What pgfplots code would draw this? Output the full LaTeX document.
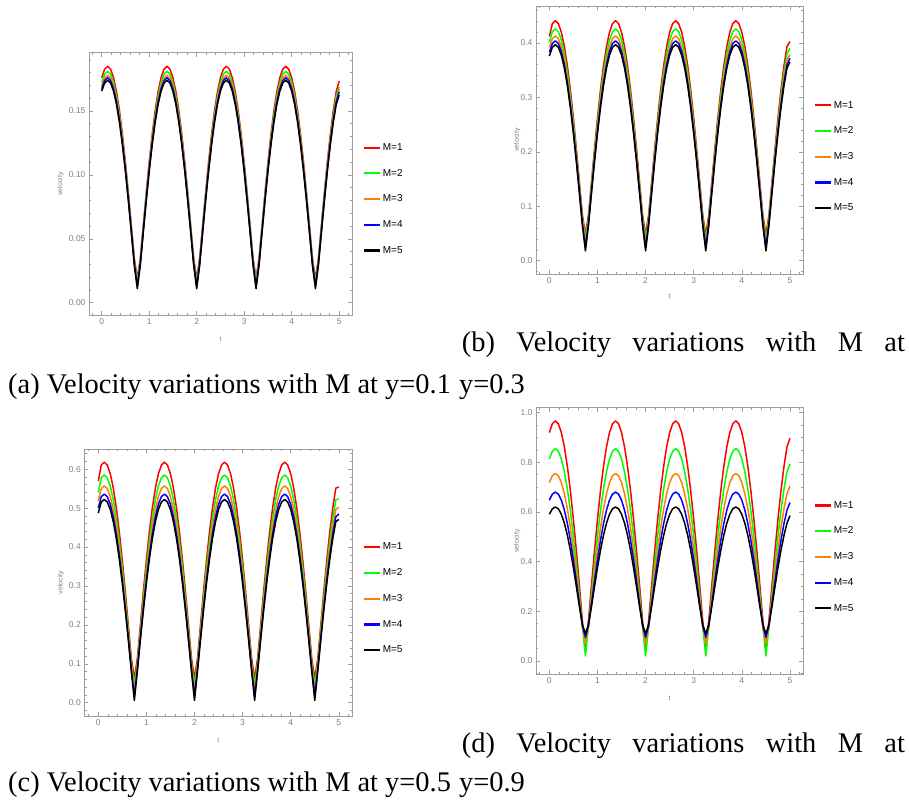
\documentclass[border=0pt]{standalone}
\usepackage{pgfplots}
\pgfplotsset{compat=1.18}
\usepackage{pgfplotstable}
\usepackage{fontspec}
\setmainfont{Liberation Sans}
\newfontfamily\capfont{Liberation Serif}
\definecolor{mred}{rgb}{1,0,0}
\definecolor{mgreen}{rgb}{0,1,0}
\definecolor{morange}{rgb}{1,0.5,0}
\definecolor{mblue}{rgb}{0,0,1}
\definecolor{tickgray}{rgb}{0.5,0.5,0.5}
\definecolor{framegray}{rgb}{0.62,0.62,0.62}

\pgfplotstableread{
t m1 m2 m3 m4 m5
0 0.1760 0.1722 0.1694 0.1674 0.1655
0.0625 0.1827 0.1788 0.1758 0.1738 0.1719
0.125 0.185 0.181 0.178 0.176 0.174
0.1875 0.1827 0.1788 0.1758 0.1738 0.1719
0.25 0.1760 0.1722 0.1694 0.1674 0.1655
0.3125 0.1651 0.1615 0.1587 0.1569 0.1551
0.375 0.1501 0.1468 0.1443 0.1426 0.1409
0.4375 0.1315 0.1286 0.1263 0.1248 0.1233
0.5 0.1098 0.1073 0.1053 0.1040 0.1027
0.5625 0.0857 0.0836 0.0819 0.0807 0.0796
0.625 0.0600 0.0582 0.0568 0.0558 0.0548
0.6875 0.0345 0.0329 0.0315 0.0304 0.0293
0.75 0.019 0.017 0.015 0.013 0.011
0.8125 0.0345 0.0329 0.0315 0.0304 0.0293
0.875 0.0600 0.0582 0.0568 0.0558 0.0548
0.9375 0.0857 0.0836 0.0819 0.0807 0.0796
1 0.1098 0.1073 0.1053 0.1040 0.1027
1.0625 0.1315 0.1286 0.1263 0.1248 0.1233
1.125 0.1501 0.1468 0.1443 0.1426 0.1409
1.1875 0.1651 0.1615 0.1587 0.1569 0.1551
1.25 0.1760 0.1722 0.1694 0.1674 0.1655
1.3125 0.1827 0.1788 0.1758 0.1738 0.1719
1.375 0.185 0.181 0.178 0.176 0.174
1.4375 0.1827 0.1788 0.1758 0.1738 0.1719
1.5 0.1760 0.1722 0.1694 0.1674 0.1655
1.5625 0.1651 0.1615 0.1587 0.1569 0.1551
1.625 0.1501 0.1468 0.1443 0.1426 0.1409
1.6875 0.1315 0.1286 0.1263 0.1248 0.1233
1.75 0.1098 0.1073 0.1053 0.1040 0.1027
1.8125 0.0857 0.0836 0.0819 0.0807 0.0796
1.875 0.0600 0.0582 0.0568 0.0558 0.0548
1.9375 0.0345 0.0329 0.0315 0.0304 0.0293
2 0.019 0.017 0.015 0.013 0.011
2.0625 0.0345 0.0329 0.0315 0.0304 0.0293
2.125 0.0600 0.0582 0.0568 0.0558 0.0548
2.1875 0.0857 0.0836 0.0819 0.0807 0.0796
2.25 0.1098 0.1073 0.1053 0.1040 0.1027
2.3125 0.1315 0.1286 0.1263 0.1248 0.1233
2.375 0.1501 0.1468 0.1443 0.1426 0.1409
2.4375 0.1651 0.1615 0.1587 0.1569 0.1551
2.5 0.1760 0.1722 0.1694 0.1674 0.1655
2.5625 0.1827 0.1788 0.1758 0.1738 0.1719
2.625 0.185 0.181 0.178 0.176 0.174
2.6875 0.1827 0.1788 0.1758 0.1738 0.1719
2.75 0.1760 0.1722 0.1694 0.1674 0.1655
2.8125 0.1651 0.1615 0.1587 0.1569 0.1551
2.875 0.1501 0.1468 0.1443 0.1426 0.1409
2.9375 0.1315 0.1286 0.1263 0.1248 0.1233
3 0.1098 0.1073 0.1053 0.1040 0.1027
3.0625 0.0857 0.0836 0.0819 0.0807 0.0796
3.125 0.0600 0.0582 0.0568 0.0558 0.0548
3.1875 0.0345 0.0329 0.0315 0.0304 0.0293
3.25 0.019 0.017 0.015 0.013 0.011
3.3125 0.0345 0.0329 0.0315 0.0304 0.0293
3.375 0.0600 0.0582 0.0568 0.0558 0.0548
3.4375 0.0857 0.0836 0.0819 0.0807 0.0796
3.5 0.1098 0.1073 0.1053 0.1040 0.1027
3.5625 0.1315 0.1286 0.1263 0.1248 0.1233
3.625 0.1501 0.1468 0.1443 0.1426 0.1409
3.6875 0.1651 0.1615 0.1587 0.1569 0.1551
3.75 0.1760 0.1722 0.1694 0.1674 0.1655
3.8125 0.1827 0.1788 0.1758 0.1738 0.1719
3.875 0.185 0.181 0.178 0.176 0.174
3.9375 0.1827 0.1788 0.1758 0.1738 0.1719
4 0.1760 0.1722 0.1694 0.1674 0.1655
4.0625 0.1651 0.1615 0.1587 0.1569 0.1551
4.125 0.1501 0.1468 0.1443 0.1426 0.1409
4.1875 0.1315 0.1286 0.1263 0.1248 0.1233
4.25 0.1098 0.1073 0.1053 0.1040 0.1027
4.3125 0.0857 0.0836 0.0819 0.0807 0.0796
4.375 0.0600 0.0582 0.0568 0.0558 0.0548
4.4375 0.0345 0.0329 0.0315 0.0304 0.0293
4.5 0.019 0.017 0.015 0.013 0.011
4.5625 0.0345 0.0329 0.0315 0.0304 0.0293
4.625 0.0600 0.0582 0.0568 0.0558 0.0548
4.6875 0.0857 0.0836 0.0819 0.0807 0.0796
4.75 0.1098 0.1073 0.1053 0.1040 0.1027
4.8125 0.1315 0.1286 0.1263 0.1248 0.1233
4.875 0.1501 0.1468 0.1443 0.1426 0.1409
4.9375 0.1651 0.1615 0.1587 0.1569 0.1551
5 0.1735 0.169 0.167 0.165 0.1625
}\tabA

\pgfplotstableread{
t m1 m2 m3 m4 m5
0 0.412 0.401 0.392 0.383 0.376
0.0625 0.4356 0.4208 0.4079 0.3990 0.3921
0.125 0.441 0.426 0.413 0.404 0.397
0.1875 0.4356 0.4208 0.4079 0.3990 0.3921
0.25 0.4197 0.4053 0.3929 0.3843 0.3776
0.3125 0.3935 0.3800 0.3683 0.3601 0.3538
0.375 0.3579 0.3454 0.3346 0.3272 0.3214
0.4375 0.3137 0.3026 0.2929 0.2862 0.2810
0.5 0.2621 0.2525 0.2441 0.2383 0.2338
0.5625 0.2047 0.1967 0.1897 0.1848 0.1810
0.625 0.1437 0.1370 0.1312 0.1271 0.1239
0.6875 0.0837 0.0775 0.0719 0.0679 0.0646
0.75 0.048 0.040 0.032 0.025 0.018
0.8125 0.0837 0.0775 0.0719 0.0679 0.0646
0.875 0.1437 0.1370 0.1312 0.1271 0.1239
0.9375 0.2047 0.1967 0.1897 0.1848 0.1810
1 0.2621 0.2525 0.2441 0.2383 0.2338
1.0625 0.3137 0.3026 0.2929 0.2862 0.2810
1.125 0.3579 0.3454 0.3346 0.3272 0.3214
1.1875 0.3935 0.3800 0.3683 0.3601 0.3538
1.25 0.4197 0.4053 0.3929 0.3843 0.3776
1.3125 0.4356 0.4208 0.4079 0.3990 0.3921
1.375 0.441 0.426 0.413 0.404 0.397
1.4375 0.4356 0.4208 0.4079 0.3990 0.3921
1.5 0.4197 0.4053 0.3929 0.3843 0.3776
1.5625 0.3935 0.3800 0.3683 0.3601 0.3538
1.625 0.3579 0.3454 0.3346 0.3272 0.3214
1.6875 0.3137 0.3026 0.2929 0.2862 0.2810
1.75 0.2621 0.2525 0.2441 0.2383 0.2338
1.8125 0.2047 0.1967 0.1897 0.1848 0.1810
1.875 0.1437 0.1370 0.1312 0.1271 0.1239
1.9375 0.0837 0.0775 0.0719 0.0679 0.0646
2 0.048 0.040 0.032 0.025 0.018
2.0625 0.0837 0.0775 0.0719 0.0679 0.0646
2.125 0.1437 0.1370 0.1312 0.1271 0.1239
2.1875 0.2047 0.1967 0.1897 0.1848 0.1810
2.25 0.2621 0.2525 0.2441 0.2383 0.2338
2.3125 0.3137 0.3026 0.2929 0.2862 0.2810
2.375 0.3579 0.3454 0.3346 0.3272 0.3214
2.4375 0.3935 0.3800 0.3683 0.3601 0.3538
2.5 0.4197 0.4053 0.3929 0.3843 0.3776
2.5625 0.4356 0.4208 0.4079 0.3990 0.3921
2.625 0.441 0.426 0.413 0.404 0.397
2.6875 0.4356 0.4208 0.4079 0.3990 0.3921
2.75 0.4197 0.4053 0.3929 0.3843 0.3776
2.8125 0.3935 0.3800 0.3683 0.3601 0.3538
2.875 0.3579 0.3454 0.3346 0.3272 0.3214
2.9375 0.3137 0.3026 0.2929 0.2862 0.2810
3 0.2621 0.2525 0.2441 0.2383 0.2338
3.0625 0.2047 0.1967 0.1897 0.1848 0.1810
3.125 0.1437 0.1370 0.1312 0.1271 0.1239
3.1875 0.0837 0.0775 0.0719 0.0679 0.0646
3.25 0.048 0.040 0.032 0.025 0.018
3.3125 0.0837 0.0775 0.0719 0.0679 0.0646
3.375 0.1437 0.1370 0.1312 0.1271 0.1239
3.4375 0.2047 0.1967 0.1897 0.1848 0.1810
3.5 0.2621 0.2525 0.2441 0.2383 0.2338
3.5625 0.3137 0.3026 0.2929 0.2862 0.2810
3.625 0.3579 0.3454 0.3346 0.3272 0.3214
3.6875 0.3935 0.3800 0.3683 0.3601 0.3538
3.75 0.4197 0.4053 0.3929 0.3843 0.3776
3.8125 0.4356 0.4208 0.4079 0.3990 0.3921
3.875 0.441 0.426 0.413 0.404 0.397
3.9375 0.4356 0.4208 0.4079 0.3990 0.3921
4 0.4197 0.4053 0.3929 0.3843 0.3776
4.0625 0.3935 0.3800 0.3683 0.3601 0.3538
4.125 0.3579 0.3454 0.3346 0.3272 0.3214
4.1875 0.3137 0.3026 0.2929 0.2862 0.2810
4.25 0.2621 0.2525 0.2441 0.2383 0.2338
4.3125 0.2047 0.1967 0.1897 0.1848 0.1810
4.375 0.1437 0.1370 0.1312 0.1271 0.1239
4.4375 0.0837 0.0775 0.0719 0.0679 0.0646
4.5 0.048 0.040 0.032 0.025 0.018
4.5625 0.0837 0.0775 0.0719 0.0679 0.0646
4.625 0.1437 0.1370 0.1312 0.1271 0.1239
4.6875 0.2047 0.1967 0.1897 0.1848 0.1810
4.75 0.2621 0.2525 0.2441 0.2383 0.2338
4.8125 0.3137 0.3026 0.2929 0.2862 0.2810
4.875 0.3579 0.3454 0.3346 0.3272 0.3214
4.9375 0.3935 0.3800 0.3683 0.3601 0.3538
5 0.4026 0.390 0.379 0.372 0.365
}\tabB

\pgfplotstableread{
t m1 m2 m3 m4 m5
0 0.569 0.540 0.518 0.500 0.487
0.0625 0.6105 0.5778 0.5502 0.5294 0.5156
0.125 0.618 0.585 0.557 0.536 0.522
0.1875 0.6105 0.5778 0.5502 0.5294 0.5156
0.25 0.5881 0.5565 0.5298 0.5098 0.4965
0.3125 0.5514 0.5216 0.4965 0.4776 0.4651
0.375 0.5013 0.4740 0.4510 0.4337 0.4223
0.4375 0.4392 0.4149 0.3944 0.3792 0.3691
0.5 0.3667 0.3458 0.3283 0.3154 0.3069
0.5625 0.2859 0.2686 0.2543 0.2438 0.2370
0.625 0.1999 0.1858 0.1745 0.1664 0.1614
0.6875 0.1144 0.1017 0.0920 0.0855 0.0819
0.75 0.062 0.045 0.030 0.017 0.006
0.8125 0.1144 0.1017 0.0920 0.0855 0.0819
0.875 0.1999 0.1858 0.1745 0.1664 0.1614
0.9375 0.2859 0.2686 0.2543 0.2438 0.2370
1 0.3667 0.3458 0.3283 0.3154 0.3069
1.0625 0.4392 0.4149 0.3944 0.3792 0.3691
1.125 0.5013 0.4740 0.4510 0.4337 0.4223
1.1875 0.5514 0.5216 0.4965 0.4776 0.4651
1.25 0.5881 0.5565 0.5298 0.5098 0.4965
1.3125 0.6105 0.5778 0.5502 0.5294 0.5156
1.375 0.618 0.585 0.557 0.536 0.522
1.4375 0.6105 0.5778 0.5502 0.5294 0.5156
1.5 0.5881 0.5565 0.5298 0.5098 0.4965
1.5625 0.5514 0.5216 0.4965 0.4776 0.4651
1.625 0.5013 0.4740 0.4510 0.4337 0.4223
1.6875 0.4392 0.4149 0.3944 0.3792 0.3691
1.75 0.3667 0.3458 0.3283 0.3154 0.3069
1.8125 0.2859 0.2686 0.2543 0.2438 0.2370
1.875 0.1999 0.1858 0.1745 0.1664 0.1614
1.9375 0.1144 0.1017 0.0920 0.0855 0.0819
2 0.062 0.045 0.030 0.017 0.006
2.0625 0.1144 0.1017 0.0920 0.0855 0.0819
2.125 0.1999 0.1858 0.1745 0.1664 0.1614
2.1875 0.2859 0.2686 0.2543 0.2438 0.2370
2.25 0.3667 0.3458 0.3283 0.3154 0.3069
2.3125 0.4392 0.4149 0.3944 0.3792 0.3691
2.375 0.5013 0.4740 0.4510 0.4337 0.4223
2.4375 0.5514 0.5216 0.4965 0.4776 0.4651
2.5 0.5881 0.5565 0.5298 0.5098 0.4965
2.5625 0.6105 0.5778 0.5502 0.5294 0.5156
2.625 0.618 0.585 0.557 0.536 0.522
2.6875 0.6105 0.5778 0.5502 0.5294 0.5156
2.75 0.5881 0.5565 0.5298 0.5098 0.4965
2.8125 0.5514 0.5216 0.4965 0.4776 0.4651
2.875 0.5013 0.4740 0.4510 0.4337 0.4223
2.9375 0.4392 0.4149 0.3944 0.3792 0.3691
3 0.3667 0.3458 0.3283 0.3154 0.3069
3.0625 0.2859 0.2686 0.2543 0.2438 0.2370
3.125 0.1999 0.1858 0.1745 0.1664 0.1614
3.1875 0.1144 0.1017 0.0920 0.0855 0.0819
3.25 0.062 0.045 0.030 0.017 0.006
3.3125 0.1144 0.1017 0.0920 0.0855 0.0819
3.375 0.1999 0.1858 0.1745 0.1664 0.1614
3.4375 0.2859 0.2686 0.2543 0.2438 0.2370
3.5 0.3667 0.3458 0.3283 0.3154 0.3069
3.5625 0.4392 0.4149 0.3944 0.3792 0.3691
3.625 0.5013 0.4740 0.4510 0.4337 0.4223
3.6875 0.5514 0.5216 0.4965 0.4776 0.4651
3.75 0.5881 0.5565 0.5298 0.5098 0.4965
3.8125 0.6105 0.5778 0.5502 0.5294 0.5156
3.875 0.618 0.585 0.557 0.536 0.522
3.9375 0.6105 0.5778 0.5502 0.5294 0.5156
4 0.5881 0.5565 0.5298 0.5098 0.4965
4.0625 0.5514 0.5216 0.4965 0.4776 0.4651
4.125 0.5013 0.4740 0.4510 0.4337 0.4223
4.1875 0.4392 0.4149 0.3944 0.3792 0.3691
4.25 0.3667 0.3458 0.3283 0.3154 0.3069
4.3125 0.2859 0.2686 0.2543 0.2438 0.2370
4.375 0.1999 0.1858 0.1745 0.1664 0.1614
4.4375 0.1144 0.1017 0.0920 0.0855 0.0819
4.5 0.062 0.045 0.030 0.017 0.006
4.5625 0.1144 0.1017 0.0920 0.0855 0.0819
4.625 0.1999 0.1858 0.1745 0.1664 0.1614
4.6875 0.2859 0.2686 0.2543 0.2438 0.2370
4.75 0.3667 0.3458 0.3283 0.3154 0.3069
4.8125 0.4392 0.4149 0.3944 0.3792 0.3691
4.875 0.5013 0.4740 0.4510 0.4337 0.4223
4.9375 0.5514 0.5216 0.4965 0.4776 0.4651
5 0.554 0.523 0.502 0.485 0.471
}\tabC

\pgfplotstableread{
t m1 m2 m3 m4 m5
0 0.9198 0.8132 0.7184 0.6474 0.5906
0.0625 0.9551 0.8445 0.7458 0.6718 0.6126
0.125 0.967 0.855 0.755 0.680 0.620
0.1875 0.9551 0.8445 0.7458 0.6718 0.6126
0.25 0.9198 0.8132 0.7184 0.6474 0.5906
0.3125 0.8620 0.7619 0.6735 0.6074 0.5547
0.375 0.7830 0.6918 0.6122 0.5530 0.5057
0.4375 0.6849 0.6047 0.5362 0.4855 0.4453
0.5 0.5701 0.5028 0.4474 0.4070 0.3751
0.5625 0.4417 0.3886 0.3484 0.3201 0.2980
0.625 0.3034 0.2649 0.2426 0.2287 0.2183
0.6875 0.1607 0.1352 0.1369 0.1418 0.1456
0.75 0.055 0.020 0.070 0.095 0.110
0.8125 0.1607 0.1352 0.1369 0.1418 0.1456
0.875 0.3034 0.2649 0.2426 0.2287 0.2183
0.9375 0.4417 0.3886 0.3484 0.3201 0.2980
1 0.5701 0.5028 0.4474 0.4070 0.3751
1.0625 0.6849 0.6047 0.5362 0.4855 0.4453
1.125 0.7830 0.6918 0.6122 0.5530 0.5057
1.1875 0.8620 0.7619 0.6735 0.6074 0.5547
1.25 0.9198 0.8132 0.7184 0.6474 0.5906
1.3125 0.9551 0.8445 0.7458 0.6718 0.6126
1.375 0.967 0.855 0.755 0.680 0.620
1.4375 0.9551 0.8445 0.7458 0.6718 0.6126
1.5 0.9198 0.8132 0.7184 0.6474 0.5906
1.5625 0.8620 0.7619 0.6735 0.6074 0.5547
1.625 0.7830 0.6918 0.6122 0.5530 0.5057
1.6875 0.6849 0.6047 0.5362 0.4855 0.4453
1.75 0.5701 0.5028 0.4474 0.4070 0.3751
1.8125 0.4417 0.3886 0.3484 0.3201 0.2980
1.875 0.3034 0.2649 0.2426 0.2287 0.2183
1.9375 0.1607 0.1352 0.1369 0.1418 0.1456
2 0.055 0.020 0.070 0.095 0.110
2.0625 0.1607 0.1352 0.1369 0.1418 0.1456
2.125 0.3034 0.2649 0.2426 0.2287 0.2183
2.1875 0.4417 0.3886 0.3484 0.3201 0.2980
2.25 0.5701 0.5028 0.4474 0.4070 0.3751
2.3125 0.6849 0.6047 0.5362 0.4855 0.4453
2.375 0.7830 0.6918 0.6122 0.5530 0.5057
2.4375 0.8620 0.7619 0.6735 0.6074 0.5547
2.5 0.9198 0.8132 0.7184 0.6474 0.5906
2.5625 0.9551 0.8445 0.7458 0.6718 0.6126
2.625 0.967 0.855 0.755 0.680 0.620
2.6875 0.9551 0.8445 0.7458 0.6718 0.6126
2.75 0.9198 0.8132 0.7184 0.6474 0.5906
2.8125 0.8620 0.7619 0.6735 0.6074 0.5547
2.875 0.7830 0.6918 0.6122 0.5530 0.5057
2.9375 0.6849 0.6047 0.5362 0.4855 0.4453
3 0.5701 0.5028 0.4474 0.4070 0.3751
3.0625 0.4417 0.3886 0.3484 0.3201 0.2980
3.125 0.3034 0.2649 0.2426 0.2287 0.2183
3.1875 0.1607 0.1352 0.1369 0.1418 0.1456
3.25 0.055 0.020 0.070 0.095 0.110
3.3125 0.1607 0.1352 0.1369 0.1418 0.1456
3.375 0.3034 0.2649 0.2426 0.2287 0.2183
3.4375 0.4417 0.3886 0.3484 0.3201 0.2980
3.5 0.5701 0.5028 0.4474 0.4070 0.3751
3.5625 0.6849 0.6047 0.5362 0.4855 0.4453
3.625 0.7830 0.6918 0.6122 0.5530 0.5057
3.6875 0.8620 0.7619 0.6735 0.6074 0.5547
3.75 0.9198 0.8132 0.7184 0.6474 0.5906
3.8125 0.9551 0.8445 0.7458 0.6718 0.6126
3.875 0.967 0.855 0.755 0.680 0.620
3.9375 0.9551 0.8445 0.7458 0.6718 0.6126
4 0.9198 0.8132 0.7184 0.6474 0.5906
4.0625 0.8620 0.7619 0.6735 0.6074 0.5547
4.125 0.7830 0.6918 0.6122 0.5530 0.5057
4.1875 0.6849 0.6047 0.5362 0.4855 0.4453
4.25 0.5701 0.5028 0.4474 0.4070 0.3751
4.3125 0.4417 0.3886 0.3484 0.3201 0.2980
4.375 0.3034 0.2649 0.2426 0.2287 0.2183
4.4375 0.1607 0.1352 0.1369 0.1418 0.1456
4.5 0.055 0.020 0.070 0.095 0.110
4.5625 0.1607 0.1352 0.1369 0.1418 0.1456
4.625 0.3034 0.2649 0.2426 0.2287 0.2183
4.6875 0.4417 0.3886 0.3484 0.3201 0.2980
4.75 0.5701 0.5028 0.4474 0.4070 0.3751
4.8125 0.6849 0.6047 0.5362 0.4855 0.4453
4.875 0.7830 0.6918 0.6122 0.5530 0.5057
4.9375 0.8620 0.7619 0.6735 0.6074 0.5547
5 0.897 0.793 0.705 0.638 0.585
}\tabD

\pgfplotsset{
  mma/.style={
    scale only axis,
    anchor=south west,
    axis line style={framegray, line width=0.8pt},
    tick style={framegray, line width=0.6pt},
    major tick length=4pt,
    minor tick length=2.2pt,
    tick align=inside,
    xtick={0,1,2,3,4,5},
    xticklabels={0,1,2,3,4,5},
    minor xtick={-0.2,0,...,5.2},
    ticklabel style={font=\fontsize{8.5}{10}\selectfont, text=tickgray},
    label style={font=\fontsize{7}{8}\selectfont, text=tickgray},
    xlabel={t}, ylabel={velocity},
    no markers,
    every axis plot/.append style={line width=1.5pt, line join=round},
    legend cell align=left,
    legend style={draw=none, fill=none, font=\fontsize{10}{12}\selectfont, row sep=13.3pt, anchor=north west},
    legend image code/.code={\draw[##1, line width=2.2pt] (0pt,0pt) -- (15.6pt,0pt);},
  },
}

\begin{document}
\begin{tikzpicture}
\path[use as bounding box] (0pt,0pt) rectangle (909pt,800pt);

% (a)
\begin{axis}[mma, at={(89pt,485pt)}, width=263pt, height=262.3pt,
  xmin=-0.267, xmax=5.27, ymin=-0.0096, ymax=0.1956,
  ytick={0,0.05,0.1,0.15}, yticklabels={0.00,0.05,0.10,0.15},
  minor ytick={0,0.01,...,0.19},
  ylabel style={at={(axis description cs:-0.108,0.5)}, anchor=center},
  xlabel style={at={(axis description cs:0.5,-0.0915)}, anchor=center},
  legend style={at={(axis description cs:1.030,0.670)}}]
\addplot[mred] table[x=t,y=m1] {\tabA}; \addlegendentry{M=1}
\addplot[mgreen] table[x=t,y=m2] {\tabA}; \addlegendentry{M=2}
\addplot[morange] table[x=t,y=m3] {\tabA}; \addlegendentry{M=3}
\addplot[mblue] table[x=t,y=m4] {\tabA}; \addlegendentry{M=4}
\addplot[black] table[x=t,y=m5] {\tabA}; \addlegendentry{M=5}
\end{axis}

% (b)
\begin{axis}[mma, at={(536pt,525.7pt)}, width=267.3pt, height=268.3pt,
  xmin=-0.277, xmax=5.277, ymin=-0.025, ymax=0.468,
  ytick={0,0.1,0.2,0.3,0.4}, yticklabels={0.0,0.1,0.2,0.3,0.4},
  minor ytick={-0.02,0,...,0.46},
  ylabel style={at={(axis description cs:-0.071,0.5)}, anchor=center},
  xlabel style={at={(axis description cs:0.5,-0.0835)}, anchor=center},
  legend style={at={(axis description cs:1.028,0.661)}}]
\addplot[mred] table[x=t,y=m1] {\tabB}; \addlegendentry{M=1}
\addplot[mgreen] table[x=t,y=m2] {\tabB}; \addlegendentry{M=2}
\addplot[morange] table[x=t,y=m3] {\tabB}; \addlegendentry{M=3}
\addplot[mblue] table[x=t,y=m4] {\tabB}; \addlegendentry{M=4}
\addplot[black] table[x=t,y=m5] {\tabB}; \addlegendentry{M=5}
\end{axis}

% (c)
\begin{axis}[mma, at={(84.3pt,84pt)}, width=268pt, height=266.7pt,
  xmin=-0.29, xmax=5.28, ymin=-0.034, ymax=0.651,
  ytick={0,0.1,0.2,0.3,0.4,0.5,0.6}, yticklabels={0.0,0.1,0.2,0.3,0.4,0.5,0.6},
  minor ytick={-0.02,0,...,0.64},
  ylabel style={at={(axis description cs:-0.088,0.5)}, anchor=center},
  xlabel style={at={(axis description cs:0.5,-0.09)}, anchor=center},
  legend style={at={(axis description cs:1.028,0.664)}}]
\addplot[mred] table[x=t,y=m1] {\tabC}; \addlegendentry{M=1}
\addplot[mgreen] table[x=t,y=m2] {\tabC}; \addlegendentry{M=2}
\addplot[morange] table[x=t,y=m3] {\tabC}; \addlegendentry{M=3}
\addplot[mblue] table[x=t,y=m4] {\tabC}; \addlegendentry{M=4}
\addplot[black] table[x=t,y=m5] {\tabC}; \addlegendentry{M=5}
\end{axis}

% (d)
\begin{axis}[mma, at={(536pt,125.7pt)}, width=267.3pt, height=266.6pt,
  xmin=-0.277, xmax=5.277, ymin=-0.054, ymax=1.02,
  ytick={0,0.2,0.4,0.6,0.8,1.0}, yticklabels={0.0,0.2,0.4,0.6,0.8,1.0},
  minor ytick={-0.05,0,...,1.0},
  ylabel style={at={(axis description cs:-0.071,0.5)}, anchor=center},
  xlabel style={at={(axis description cs:0.5,-0.09)}, anchor=center},
  legend style={at={(axis description cs:1.028,0.665)}}]
\addplot[mred] table[x=t,y=m1] {\tabD}; \addlegendentry{M=1}
\addplot[mgreen] table[x=t,y=m2] {\tabD}; \addlegendentry{M=2}
\addplot[morange] table[x=t,y=m3] {\tabD}; \addlegendentry{M=3}
\addplot[mblue] table[x=t,y=m4] {\tabD}; \addlegendentry{M=4}
\addplot[black] table[x=t,y=m5] {\tabD}; \addlegendentry{M=5}
\end{axis}

% captions
\begin{scope}[every node/.style={anchor=base west, inner sep=0pt, font=\capfont\fontsize{28.4}{30}\selectfont}]
\node at (461.7pt,448.3pt) {\makebox[443pt][l]{(b)\hfill Velocity\hfill variations\hfill with\hfill M\hfill at}};
\node at (8pt,406.7pt) {(a) Velocity variations with M at y=0.1};
\node at (459pt,406.7pt) {y=0.3};
\node at (461.7pt,48pt) {\makebox[443pt][l]{(d)\hfill Velocity\hfill variations\hfill with\hfill M\hfill at}};
\node at (8pt,9pt) {(c) Velocity variations with M at y=0.5};
\node at (459pt,9pt) {y=0.9};
\end{scope}
\end{tikzpicture}
\end{document}
